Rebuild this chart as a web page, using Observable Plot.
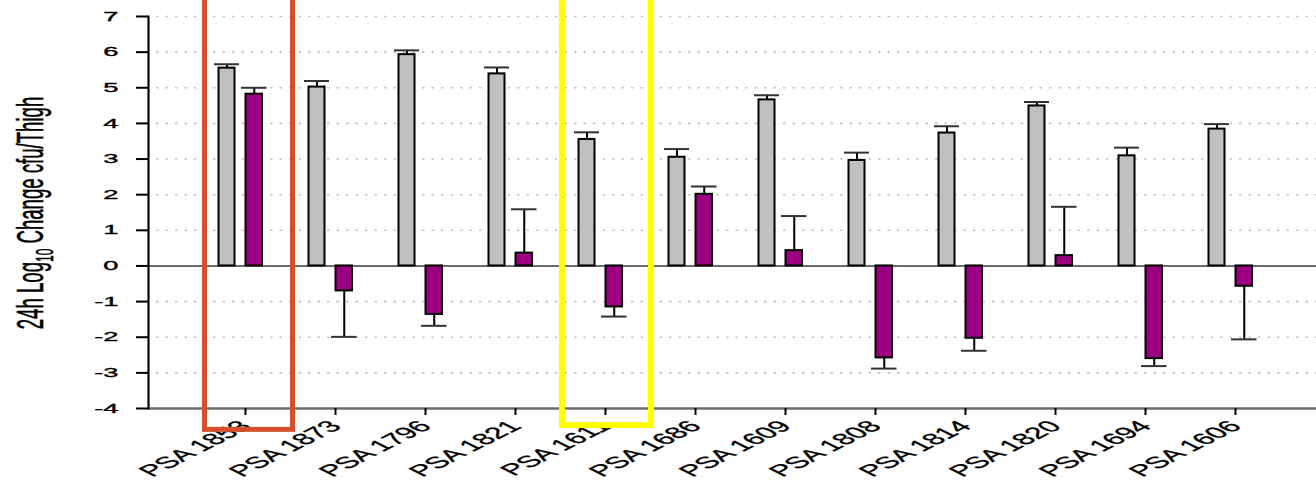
<!DOCTYPE html>
<html><head><meta charset="utf-8">
<script src="https://cdn.jsdelivr.net/npm/d3@7"></script>
<script src="https://cdn.jsdelivr.net/npm/@observablehq/plot@0.6"></script>
<style>body{margin:0;background:#fff;overflow:hidden}</style>
</head><body><div id="chart"></div>
<script>
const categories = ["PSA 1853","PSA 1873","PSA 1796","PSA 1821","PSA 1611","PSA 1686","PSA 1609","PSA 1808","PSA 1814","PSA 1820","PSA 1694","PSA 1606"];
const grayValues   = [5.55, 5.02, 5.93, 5.39, 3.55, 3.05, 4.66, 2.96, 3.73, 4.49, 3.09, 3.84];
const grayErrors   = [0.11, 0.17, 0.12, 0.18, 0.20, 0.23, 0.13, 0.22, 0.19, 0.11, 0.23, 0.14];
const purpleValues = [4.82, -0.70, -1.36, 0.36, -1.15, 2.01, 0.43, -2.58, -2.03, 0.29, -2.60, -0.57];
const purpleErrors = [0.18, 1.29, 0.32, 1.23, 0.27, 0.22, 0.97, 0.30, 0.35, 1.37, 0.21, 1.49];
const yTicks = [-4, -3, -2, -1, 0, 1, 2, 3, 4, 5, 6, 7];
const highlightCategories = ["PSA 1853", "PSA 1611"];
const highlightBottoms = [-4.60, -4.48];
const titleMain = "24h Log";
const titleSub = "10";
const titleRest = " Change cfu/Thigh";

const rows = categories.map((c, i) => ({
  cat: c,
  gray: grayValues[i],
  grayEnd: grayValues[i] + grayErrors[i],
  purple: purpleValues[i],
  purpleEnd: purpleValues[i] + Math.sign(purpleValues[i]) * purpleErrors[i]
}));

const Y_STRETCH = 2.1;
const X_STRETCH = 2.0;
const boxStyles = [
  {stroke: "#D64F2D", strokeWidth: 5, insetLeft: 0.5, insetRight: -16.5},
  {stroke: "#FFFF00", strokeWidth: 6, insetLeft: -2, insetRight: -15}
];

const plot = Plot.plot({
  width: 1316, height: 480,
  marginLeft: 148, marginRight: 0, marginTop: 16, marginBottom: 72,
  style: {fontFamily: "'Liberation Sans', Arial, sans-serif", background: "white", color: "#000"},
  x: {domain: categories, range: [148, 1321], paddingInner: 0.2, paddingOuter: 0.61, label: null},
  y: {domain: [-4, 7], label: null},
  marks: [
    Plot.ruleY(yTicks.filter(t => t !== 0 && t !== -4), {stroke: "#c4c4c4", strokeWidth: 1.6, strokeDasharray: "2.5,7", insetLeft: 8}),
    Plot.ruleY([0], {stroke: "#6b6b6b", strokeWidth: 2}),
    Plot.ruleY([-4], {stroke: "#6b6b6b", strokeWidth: 2.5}),
    Plot.frame({anchor: "left", stroke: "#000", strokeWidth: 2.2}),
    Plot.barY(rows, {x: "cat", y: "gray", fill: "#C0C0C0", stroke: "#000", strokeWidth: 2, insetLeft: 14.5, insetRight: 41.5}),
    Plot.barY(rows, {x: "cat", y: "purple", fill: "#9C0080", stroke: "#000", strokeWidth: 2, insetLeft: 41.5, insetRight: 14}),
    Plot.ruleX(rows, {x: "cat", y1: "gray", y2: "grayEnd", dx: -13.5, stroke: "#000", strokeWidth: 2}),
    Plot.ruleX(rows, {x: "cat", y1: "purple", y2: "purpleEnd", dx: 13.75, stroke: "#000", strokeWidth: 2}),
    Plot.tickY(rows, {x: "cat", y: "grayEnd", stroke: "#333", strokeWidth: 2, insetLeft: 10, insetRight: 37}),
    Plot.tickY(rows, {x: "cat", y: "purpleEnd", stroke: "#333", strokeWidth: 2, insetLeft: 37, insetRight: 9.5}),
    Plot.axisY({ticks: yTicks, tickSize: 12, tickPadding: 18, fontSize: 13, stroke: "#000", strokeWidth: 2, fill: "#000", tickFormat: d => String(d), label: null}),
    Plot.axisX({tickSize: 7, tickPadding: 8, dx: 5, tickRotate: -45, fontSize: 16, stroke: "#000", strokeWidth: 2, fill: "#000", label: null}),
    ...highlightCategories.map((c, i) => Plot.barY([{cat: c, y1: highlightBottoms[i], y2: 7.7}], {
      x: "cat", y1: "y1", y2: "y2", fill: "none", ...boxStyles[i]
    }))
  ]
});

document.getElementById("chart").appendChild(plot);

// horizontal stretch and slight weight of the text, as in the reference
plot.querySelectorAll('g[aria-label="y-axis tick label"] text').forEach(t => {
  t.setAttribute("transform", (t.getAttribute("transform") || "") + ` scale(${Y_STRETCH},1)`);
  t.setAttribute("stroke", "#000");
  t.setAttribute("stroke-width", "0.35");
});
plot.querySelectorAll('g[aria-label="x-axis tick label"] text').forEach(t => {
  const tr = t.getAttribute("transform") || "";
  t.setAttribute("transform", tr.includes("rotate(") ? tr.replace("rotate(", `scale(${X_STRETCH},1) rotate(`) : tr + ` scale(${X_STRETCH},1)`);
  t.setAttribute("stroke", "#000");
  t.setAttribute("stroke-width", "0.3");
});

const svg = d3.select(plot);
const title = svg.append("text")
  .attr("transform", `translate(43,213) scale(2.0,1) rotate(-90)`)
  .attr("text-anchor", "middle")
  .attr("font-size", 18.6)
  .attr("fill", "#000")
  .attr("stroke", "#000")
  .attr("stroke-width", 0.3)
  .attr("font-family", "'Liberation Sans', Arial, sans-serif");
title.append("tspan").text(titleMain);
title.append("tspan").attr("font-size", 12).attr("dy", 5).text(titleSub);
title.append("tspan").attr("dy", -5).text(titleRest);
</script>
</body></html>
